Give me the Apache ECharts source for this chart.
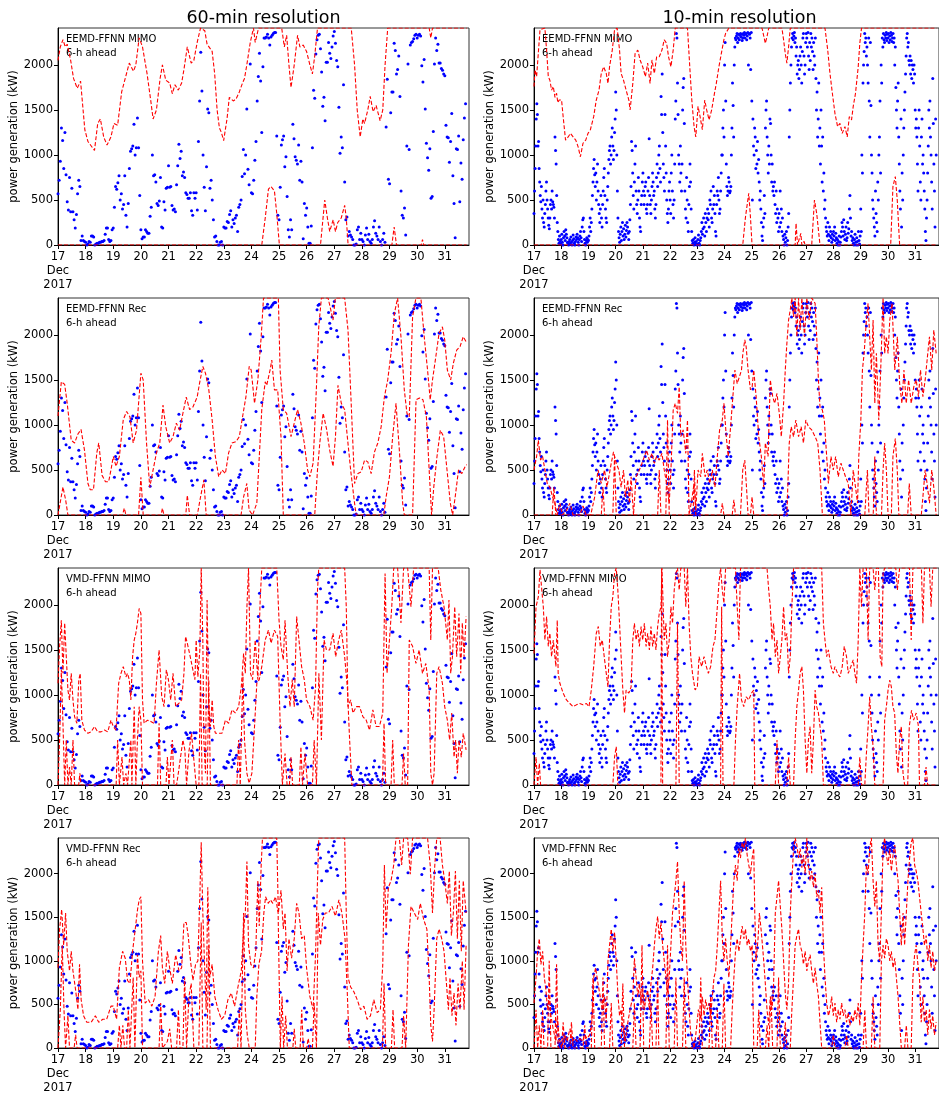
<!DOCTYPE html>
<html>
<head>
<meta charset="utf-8">
<script src="https://cdn.jsdelivr.net/npm/echarts@6/dist/echarts.min.js"></script>
<style>
html,body{margin:0;padding:0;background:#fff;}
#chart{width:939px;height:1095px;}
</style>
</head>
<body>
<div id="chart"></div>
<script>
// Wind farm output, 17–31 Dec 2017: measured power (blue dots) and 6-h ahead forecasts (red dashed).
const CAP = 2410;                 // upper limit of the power axis (kW)
const X_MAX = 357;                // hours shown after 17 Dec 00:00
const dayTicks = ['17\nDec\n2017','18','19','20','21','22','23','24','25','26','27','28','29','30','31'];
const yTicks = [0, 500, 1000, 1500, 2000];
const columnTitles = ['60-min resolution', '10-min resolution'];
const modelNames = ['EEMD-FFNN MIMO', 'EEMD-FFNN Rec', 'VMD-FFNN MIMO', 'VMD-FFNN Rec'];
const horizonText = '6-h ahead';

// Measured power, hourly (one value per hour from 17 Dec 00:00)
const actual60 = [
  570,720,930,1300,1160,850,1250,780,480,390,750,370,630,370,280,190,340,570,720,650,50,100,50,40,
  30,0,10,40,30,100,100,90,0,10,20,20,30,30,40,40,50,120,190,190,60,40,50,170,
  190,420,650,620,690,770,500,570,400,450,770,330,200,460,850,1040,1070,1100,1340,1000,1080,1410,1080,550,
  170,70,90,90,170,150,130,130,320,420,1000,770,780,700,460,440,490,750,200,190,480,390,630,640,
  880,640,650,440,390,400,370,670,880,1120,960,1040,770,810,750,580,560,520,520,580,380,330,580,520,
  580,390,1150,1600,2140,1710,1000,640,380,870,1510,1470,630,720,500,280,90,100,40,0,0,30,40,0,
  200,190,190,260,250,340,380,200,280,240,300,330,150,420,450,500,760,1060,790,1000,1510,840,670,2010,
  580,570,720,940,1150,1600,1870,2130,1820,1250,1980,2300,2300,2310,2340,2300,2220,2310,2330,2350,2360,2360,1210,330,
  280,640,1110,1170,1210,870,980,540,170,90,280,170,1340,1180,980,940,900,1110,720,930,700,70,460,330,
  410,200,20,20,210,1080,1720,1630,2120,2280,2330,2340,2180,1920,1540,1640,1380,2030,2030,2250,2130,2070,2200,2320,
  2370,2240,2050,1980,1530,1020,1200,1080,1780,700,280,310,100,150,110,90,60,0,0,10,170,200,60,130,
  60,40,0,110,190,60,120,40,20,60,200,270,130,100,60,200,40,0,60,130,30,1310,1840,730,
  680,1470,1700,1700,2240,2160,1900,1950,2100,1650,600,330,300,410,110,1100,2010,1060,2220,2250,2260,2290,2330,2340,
  2300,2330,2340,2320,1990,1810,2060,1510,1130,970,830,1070,520,540,1260,2010,2300,2160,2230,2020,2020,1960,1940,1900,
  1880,1330,1200,1190,920,1150,1460,770,460,80,1070,1060,1210,480,910,730,1170,1410,1570
];

// Measured power, 10-min record (two readings per hour kept)
const actual10 = [
  350,600,850,1100,1400,1570,1450,1100,1150,850,700,550,480,650,400,300,500,250,200,350,450,600,700,500,400,300,220,180,300,450,500,400,600,480,450,420,300,1200,1050,900,550,250,150,60,20,100,40,10,
  60,120,30,0,80,150,100,50,170,120,80,30,20,0,40,60,10,90,30,0,50,110,70,20,0,40,90,60,120,80,30,0,60,100,150,80,40,200,280,300,150,60,20,0,50,80,30,60,
  50,100,200,300,150,250,400,550,700,850,950,780,650,800,500,700,900,600,450,350,250,400,550,300,200,450,600,750,850,550,400,300,250,500,650,800,950,1050,1100,900,1000,1200,1300,1100,950,1050,1250,1400,
  1700,1500,1000,600,300,150,80,30,120,200,50,150,250,100,180,60,120,220,90,160,250,200,130,60,150,280,450,650,1150,1050,800,550,400,700,900,1100,600,450,350,500,750,600,300,200,150,450,550,700,
  800,600,450,550,650,700,400,350,450,600,750,1180,550,450,350,500,650,800,700,550,600,400,300,450,750,900,650,800,1000,1100,850,700,1650,1450,1900,1250,900,750,600,1450,1100,800,500,350,250,400,600,700,
  500,350,800,1000,600,450,300,500,900,1400,1600,2350,2300,1800,1450,1000,900,700,1100,800,600,900,1500,1750,1850,1350,600,400,300,750,500,250,150,450,650,900,700,400,150,50,20,60,0,30,80,10,40,0,
  10,60,110,20,0,50,80,150,250,120,180,300,200,100,350,250,150,300,400,280,350,200,500,450,600,300,250,400,650,450,550,350,150,100,450,600,550,750,500,350,400,600,800,1000,1000,1300,1500,1200,
  2000,2250,1600,900,650,550,600,750,700,580,600,650,1000,1300,1800,1550,1200,2000,2200,2300,2280,2320,2350,2250,2300,2340,2280,2330,2350,2310,2340,2270,2300,2350,2330,2360,2300,2340,2350,2280,2320,2360,2000,2350,2340,2300,1950,2360,
  1600,500,1400,1100,1000,1300,1200,850,1050,900,1150,800,950,700,500,600,400,250,100,50,200,300,550,350,1300,1500,1600,1200,1000,800,1100,900,1400,1350,1000,700,900,600,650,550,700,450,350,600,250,400,300,150,
  350,200,600,250,400,150,300,100,60,0,120,30,80,150,0,50,200,350,1200,1500,1800,2000,2200,2300,2350,2280,2320,2360,2250,2300,2100,2200,1900,2000,2050,1850,1950,2100,2200,2000,1800,2150,2300,2350,2100,1900,2000,2250,
  2350,2300,2200,2360,2100,1950,2250,2050,2350,2200,2300,2150,1950,2250,2100,2000,2300,1850,1500,1700,1200,1400,1800,1100,1300,900,1500,1100,700,1200,600,800,400,500,300,200,150,100,250,120,50,200,100,150,80,30,120,60,
  150,100,200,50,130,80,20,60,0,40,100,0,30,90,150,250,200,100,280,150,60,120,200,50,80,250,130,180,400,550,300,100,150,50,80,20,0,60,120,30,0,80,40,0,150,50,10,100,
  400,150,1000,800,1800,2000,2150,2350,2250,2300,2100,2200,2000,1800,2300,1600,1200,2250,1550,1000,800,500,400,300,200,100,600,350,250,150,700,500,1000,1200,1600,800,2000,1800,2300,2200,2350,2280,2250,2330,2300,2360,2270,2340,
  2300,2350,2250,2320,2280,2360,2330,2260,2300,2350,2250,2300,2000,2200,1750,1500,1300,1600,1800,1200,900,600,400,1400,200,800,500,1000,1300,1500,1700,1900,2100,2300,2350,2200,2250,2050,2000,2100,1900,2050,1850,2000,1950,1800,2000,1900,
  1500,1300,1400,1200,900,600,1300,1500,1100,700,500,1200,1400,900,1000,800,600,400,150,50,300,500,800,1100,1500,1300,1600,1200,1000,700,400,1850,1350,900,600,200,1400,1000
];

// Forecast traces as (hour, kW) pairs, values held within [0, CAP]
const eemdMimo60Hi = [0,2050, 2,2200, 4.3,2280, 6.3,2200, 8,2230, 11,2050, 13.5,1850, 16.7,1740, 19.6,1820, 23.3,1280, 26,1150, 31.7,1050, 34.5,1350, 36.8,1400, 39.7,1200, 42.6,1110, 46,1200, 48.6,1350, 51.8,1330, 55.3,1700, 58.4,1850, 61.9,2020, 65.6,1930, 67.6,2000, 70.5,2300, 73.4,2200, 77.4,1900, 80.6,1600, 82.6,1400, 85.5,1500, 88.7,1850, 90.7,2000, 93.6,1830, 97,1800, 99.3,1680, 101.6,1780, 104.5,1720, 107.4,1800, 109.4,1950, 112.3,2200, 115.7,2020, 118,2050, 120.9,2250, 123.8,2410, 127.5,2380, 129.5,2230, 133.9,2150, 136.1,1900, 138.2,1500, 140.2,1300, 141.9,1250, 143.9,1160, 146.8,1400, 148.8,1640, 152.3,1600, 154.6,1620, 157.5,1700, 160.3,1800, 162,1850, 164,2000, 167,2250, 169.8,2410, 171.3,2250, 174.2,2410, 194.3,2410, 196.6,2200, 198.6,2330, 200.6,2000, 202.4,1750, 205.2,2000, 208.1,2330, 210.1,2200, 213,2220, 215.9,2150, 218.8,2000, 221,1900, 223,2100, 225.4,2410, 254.7,2410, 257.6,2000, 259.9,1500, 262.5,1200, 264.8,1400, 266.3,1350, 269.1,1500, 271.2,1650, 273.7,1480, 276.3,1550, 279.8,1380, 282.1,1500, 284.1,2000, 286.4,2410, 322.4,2410, 323.8,2300, 325.3,2410, 355,2410];
const eemdMimo60Lo = [0,0, 177,0, 180,300, 182.8,620, 185,650, 188,600, 190,350, 192.3,0, 228,0, 231.7,500, 234,300, 236,150, 239,280, 241,150, 243,250, 246,300, 249,440, 250.4,300, 252,0, 290,0, 292,200, 294,0, 315.5,0, 316.6,60, 317.7,0, 355,0];

const eemdRec60Hi = [0,1100, 2.9,1480, 5.8,1450, 8,1240, 11.5,830, 14.4,800, 17.3,900, 20,950, 23,720, 26,350, 28,280, 30.8,280, 33.7,690, 35.4,800, 38.3,440, 41.2,370, 44,370, 46,500, 48,650, 50.4,540, 53.3,650, 56.7,1060, 59.6,1150, 62.5,1090, 65.3,800, 68.2,940, 72,1575, 74,1500, 76.9,800, 79.7,310, 82.6,500, 85.5,690, 88.4,800, 91.2,1220, 93.6,980, 97,800, 99.9,870, 102.8,1020, 105.6,940, 108.5,1130, 111.4,1310, 114.3,1170, 117.2,1200, 120.9,1310, 122.9,1460, 125.8,1650, 128.1,1575, 131,1390, 133.9,1055, 136.7,650, 139.6,425, 142.5,500, 145.4,460, 148.2,690, 151.1,800, 154.6,815, 157.5,870, 160.3,1090, 163.2,1310, 166.1,1650, 167.8,1610, 170.7,1240, 173.6,1500, 176.5,1980, 178.5,2410, 191.4,2410, 192.9,1610, 195.7,1170, 198.6,1130, 202.4,870, 205.2,1020, 208.1,1170, 211,1020, 213.9,800, 216.8,500, 218.8,425, 221.6,575, 224.5,1425, 226.5,2090, 228.8,2410, 234.6,2410, 236.9,2280, 238.9,2165, 240.9,2410, 249,2410, 251.9,2055, 254.8,1200, 257.6,350, 260.5,460, 263.4,480, 266.3,610, 269.1,590, 272,460, 274.9,700, 277.8,800, 280.7,980, 283.5,1310, 286.4,1500, 289.3,1800, 292.2,2240, 295,2410, 297.9,1980, 300.8,1390, 303.1,1130, 305.1,1090, 308,2200, 310.9,2410, 315.2,2410, 318.1,1980, 321,1610, 323.3,1280, 325.3,1500, 328.2,1760, 331,2020, 333.9,2090, 335.9,1945, 338.2,1610, 341.1,1500, 343.4,1685, 346.3,1830, 349.2,1870, 352,1980, 354.5,1925];
const eemdRec60Lo = [0,0, 4.3,310, 6.6,170, 8.6,0, 56,0, 57.6,75, 59,0, 70,0, 72,420, 74,0, 89.5,0, 90.7,75, 92,0, 111,0, 112.3,220, 114.3,0, 121,0, 123.8,200, 126.7,390, 128.7,0, 159,0, 161.2,200, 164,350, 166,55, 169,0, 172.7,130, 177,1170, 180,1480, 181.3,1440, 184.2,1610, 185.7,1720, 188,1390, 190.8,1390, 193.7,870, 195.7,0, 223,0, 225.4,500, 227.4,800, 230.3,1130, 233.2,960, 236,720, 238.9,540, 241,870, 243.2,1440, 246.1,1240, 249,1170, 251.3,870, 254.2,500, 257.6,130, 259,0, 283,0, 285,200, 287.9,425, 290.7,870, 293.6,1240, 296.5,720, 299.4,130, 300.8,0, 308,0, 311,1280, 314,1300, 317,1280, 320,1090, 322.4,500, 324.5,0, 326.4,310, 329.2,650, 332.1,940, 335,870, 337.9,500, 340.8,130, 342.8,0, 345,200, 347.9,500, 350.8,460, 353.7,540, 355,560];

const vmdMimo60Hi = [0,1130, 1.4,1540, 2.9,1830, 4.3,1240, 5.8,1800, 7.2,1425, 8.6,1055, 10,945, 11.5,1240, 13,945, 14.4,760, 16.4,685, 18.1,1170, 19.3,1240, 20.7,720, 23,610, 26,575, 28.8,590, 31.7,650, 34.5,590, 37.4,590, 40.3,610, 43.2,590, 46,720, 48,650, 50.4,610, 52.7,1130, 54.7,1240, 56.7,1315, 59,1200, 60.4,1240, 61.9,1170, 63.3,945, 64.8,1425, 66.2,1610, 67.6,1685, 69,1800, 70.5,1960, 72,1905, 73.4,945, 74.8,685, 77.7,720, 80.6,705, 83.5,685, 85.5,1130, 87.8,1500, 90.1,980, 92.1,870, 94.1,1280, 95.9,1170, 97.9,945, 99.9,1240, 102.2,870, 105.1,910, 107.4,945, 109.4,1240, 110.8,1650, 112.3,1575, 114.3,1460, 116.6,1315, 118.9,1170, 120,1610, 121.5,1200, 123.2,1500, 124.4,2410, 125.8,1610, 126.7,500, 128.1,130, 129.5,2055, 130.9,870, 132.4,650, 133.9,945, 135.3,650, 136.7,575, 139.6,575, 142.5,575, 145.4,720, 148.2,685, 151.1,835, 154,800, 156.9,870, 159.2,1090, 161.2,1460, 162.7,1240, 164.1,1980, 165.5,2410, 167.2,1240, 169,1170, 171.3,1610, 173.6,1170, 175.6,2055, 177,2410, 190,2410, 192,1830, 193.7,1540, 195.7,1390, 197.2,1830, 199.5,1240, 201.5,870, 203.5,1170, 205.2,870, 207.3,1870, 209.3,1610, 211.6,1315, 213.9,1170, 215.9,945, 218.8,870, 221.6,720, 223.7,1090, 225.4,2165, 226.5,2410, 249,2410, 250.4,1980, 251.9,870, 254.2,945, 256.2,800, 259.1,870, 261.9,870, 264.8,760, 267.7,720, 270.6,610, 273.5,835, 276.3,650, 279.2,650, 282.1,800, 284.1,2350, 285.8,1240, 287.9,1610, 289.9,1980, 291.6,2410, 295,2410, 297.9,1800, 300.2,2410, 303.7,2410, 306.6,1980, 308.9,2410, 322.4,2410, 323.8,1610, 325.3,2410, 330.2,2410, 332.5,2165, 335.3,1980, 338.2,1610, 339.6,2055, 341.1,1240, 342.6,1425, 344.6,1980, 346.3,1425, 348.3,1905, 349.8,1240, 351.2,1800, 352.7,1425, 354.5,1870];
const vmdMimo60Lo = [0,0, 1.4,500, 2.9,1280, 4.3,685, 5.8,0, 7.2,500, 8.6,0, 10,200, 11.5,0, 13,500, 14.4,0, 18,0, 19,130, 20,0, 50.5,0, 51.8,500, 53.3,0, 55.6,310, 57,0, 59,130, 60.4,0, 63.3,500, 64.2,0, 66.2,870, 67.6,0, 69,500, 70.5,870, 72,720, 73.4,0, 86.4,0, 87.8,685, 89.2,0, 93.8,0, 95,310, 96.4,0, 98,0, 99.3,500, 100.8,0, 103,0, 104.5,130, 108.5,500, 110.2,390, 111.7,0, 113.7,370, 116,575, 118,280, 120,0, 122.4,0, 123.8,1240, 125.2,0, 129.6,0, 131,1170, 132.4,0, 155.4,0, 156.9,500, 158.3,0, 160.6,1240, 162,500, 164.1,130, 166,20, 168.4,130, 170.7,650, 172.7,1130, 174.8,1170, 177,1315, 180,1610, 182.8,1720, 185.1,1575, 188,1720, 190.8,1650, 192.9,720, 194.9,0, 197.2,350, 199,0, 201,0, 202.4,310, 203.8,0, 209.6,0, 211,425, 212.4,0, 214.5,350, 216.8,0, 221,0, 222.5,500, 224.5,0, 226.6,1240, 228.8,500, 231.1,1610, 233.2,1500, 236,1500, 238.9,1685, 241.2,1425, 243.8,1610, 246.1,1720, 249,1425, 251.3,1090, 253.3,500, 255.3,0, 281.8,0, 283.2,685, 284.6,0, 289.3,0, 290.7,500, 292.1,0, 298.8,0, 300.2,350, 301.6,0, 303.7,0, 305.1,1610, 308,1540, 310.9,1350, 313.7,1500, 316.6,1240, 319.5,1350, 322.4,1055, 323.8,130, 325.3,0, 326.7,130, 329,1240, 331,1315, 333.9,1130, 335.9,870, 338.2,720, 340.2,500, 342,800, 344,310, 345.4,500, 346.9,130, 348.3,500, 350.3,310, 352,575, 354.5,390];

const vmdRec60Hi = [0,920, 1.4,1365, 3.2,1590, 4.9,1180, 6.6,1550, 8,1110, 10,885, 11.5,1110, 13,885, 15.3,665, 17.3,440, 18.7,960, 20.1,555, 22.2,370, 25,295, 28.8,295, 32.5,370, 35.4,295, 38.9,330, 42.3,330, 46,480, 48,480, 50.9,330, 53.3,920, 56.1,1110, 58.4,1030, 60.4,775, 62.5,740, 64.8,1110, 67.1,1365, 69.1,1590, 70.5,1700, 72,1735, 73.4,1000, 75.7,515, 78.6,555, 81.5,480, 84.3,590, 87.2,1110, 89.2,1290, 90.7,920, 92.7,740, 95,1110, 97,920, 99.3,740, 102.2,1070, 105.1,885, 107.4,920, 109.4,1440, 111.4,1440, 113.1,1290, 115.1,1000, 117.2,775, 119.5,960, 121.5,1000, 123.2,1735, 124.4,2360, 125.8,1550, 127.2,1000, 128.7,440, 130.1,1845, 131.8,810, 133.9,960, 136.2,590, 139,440, 141.9,330, 144.8,370, 147.6,555, 150.5,630, 153.4,480, 156.3,700, 159.2,885, 161.2,1365, 162.7,1550, 164.1,2140, 165.5,1180, 167.5,960, 169.8,920, 171.8,1110, 173.6,1920, 174.8,1400, 176.5,2100, 177.6,2410, 190,2410, 191.4,1550, 193.7,1810, 195.7,1365, 197.2,1550, 199,885, 200.6,1255, 202.9,1030, 205.2,1255, 207.3,1660, 209.3,1550, 211.6,1255, 213.9,1290, 215.9,920, 218.8,590, 221.6,440, 223.7,1070, 225.4,1920, 226.5,2410, 249,2410, 250.4,1550, 251.9,810, 254.2,700, 257,645, 259.9,555, 262.8,440, 265.7,480, 268.5,330, 271.4,370, 274.3,555, 277.2,405, 280,440, 282.1,960, 283.5,2100, 285,1365, 287,1845, 289.3,1920, 291.6,2100, 293.6,2410, 296.5,2410, 298.5,2100, 300.2,2410, 303.7,2410, 306,1995, 308,2410, 321,2410, 323.3,2100, 325.3,1550, 327.3,2100, 329,2410, 331.9,2410, 333.9,2100, 335.9,1920, 338.2,1660, 339.9,2030, 341.7,1290, 343.4,1550, 345.2,2030, 346.9,1255, 348.6,1920, 350.3,1110, 352,1920, 354.5,1550];
const vmdRec60Lo = [0,0, 2,440, 3.7,1180, 5.2,440, 6.6,0, 8.6,370, 10,0, 14,0, 15.3,150, 16.6,0, 51.8,0, 53.3,260, 54.7,0, 56.3,260, 57.8,0, 59.6,0, 61.1,440, 62.5,0, 65.3,810, 66.8,0, 69,1070, 70.5,810, 72,885, 73.4,0, 87.8,0, 89.2,515, 90.7,0, 95,75, 97,220, 98.7,0, 103,0, 104.6,440, 106,0, 108.5,0, 110,810, 111.7,0, 113.7,590, 115.7,740, 118,0, 122.3,0, 124.4,1440, 125.8,0, 129.4,0, 130.9,1180, 132.4,0, 156,0, 157.5,440, 159,0, 161.2,1550, 162.7,440, 164.4,150, 166.1,0, 171.3,0, 172.7,590, 174.5,960, 176.8,1110, 178.8,1550, 180.3,1735, 182.6,1660, 184.5,1700, 186.6,1660, 188.9,1735, 191.2,1550, 193.1,0, 194.6,590, 196,0, 197.8,370, 199.3,0, 204,0, 205.2,220, 206.5,0, 210.3,0, 211.7,440, 213.1,0, 216,0, 217.3,110, 218.7,0, 221,0, 222.5,515, 224.5,0, 226,1550, 228,1180, 230,1475, 232.2,1550, 235,1550, 238,1625, 241,1515, 244,1700, 246.6,1550, 249.3,1255, 251.3,630, 253,0, 281.8,0, 283.2,740, 284.6,0, 289.6,0, 291,440, 292.4,0, 298.8,0, 300.2,370, 302,0, 304.4,1180, 306.6,1625, 309.5,1550, 312.4,1475, 314.7,1660, 317.6,1475, 320.4,1365, 322.4,810, 323.8,260, 325.3,75, 326.7,440, 329,1255, 331,1365, 333.3,1255, 335.3,1110, 337.4,740, 339.1,440, 340.5,810, 342.2,370, 344,630, 345.7,260, 347.5,740, 349.2,440, 351.2,1000, 352.7,440, 354.5,1180];

const eemdMimo10Hi = [0,1760, 0.9,1945, 2.3,1870, 4,2165, 5.3,2390, 6.7,2410, 9.6,2410, 11.1,2165, 12.6,1870, 14,1830, 15.5,1720, 17,1760, 18.5,1640, 19.9,1685, 21,1580, 22.2,1610, 24.3,1610, 25.7,1425, 27.8,1165, 30.1,1200, 32.1,1240, 34.5,1200, 36.8,1165, 38.9,1090, 40.9,980, 43.2,1130, 45.6,1165, 47.6,1240, 49.7,1280, 52.6,1425, 54.9,1610, 57.3,1720, 59.3,1905, 61.4,1980, 63.7,1905, 65.2,1795, 66.6,1980, 69,2165, 71,2390, 73.3,2410, 75.4,2165, 76.8,1905, 78.9,1830, 81.2,1720, 83.6,1610, 84.7,1500, 87.1,1795, 89.1,2125, 91.5,2165, 93.5,2055, 95.8,1980, 98.2,1870, 100.2,2020, 102.3,1795, 104,2055, 106.1,1905, 108.1,2090, 110.4,2090, 112.8,2165, 114.8,2280, 116.9,2240, 118.6,2090, 120.7,1980, 122.7,2165, 124.5,2410, 135.3,2410, 137.3,1980, 139.1,1610, 141.1,1315, 142.6,1200, 144.6,1540, 146.4,1425, 148.4,1280, 150.5,1610, 152.2,1500, 154.3,1390, 156.6,1500, 158.6,1650, 160.7,1795, 163,1980, 165.1,2125, 167.4,2280, 168.9,2350, 171.8,2410, 201,2410, 203.9,2240, 205.4,2315, 206.9,2410, 218.5,2410, 220,2280, 221.5,2125, 222.9,2020, 224.4,2200, 225.9,2410, 256.5,2410, 258.9,2165, 260.9,1905, 263,1685, 265.3,1460, 267.6,1315, 269.7,1350, 271.7,1240, 274.1,1315, 276.1,1200, 277.9,1425, 279.9,1390, 281.4,1540, 283.4,1685, 285.8,1980, 287.2,2240, 288.7,2410, 355,2410];
const eemdMimo10Lo = [0,0, 184,0, 186.4,310, 189.3,575, 190.8,310, 192.2,0, 230.2,0, 231,240, 232.3,0, 235.2,130, 236.1,0, 238.1,40, 239,0, 244.8,0, 247.2,500, 249.2,350, 252.1,0, 314.4,0, 316.4,650, 318.5,760, 320.2,500, 322.3,0, 355,0];

const eemdRec10Hi = [0,500, 2.3,650, 3.8,830, 5.8,610, 7.6,650, 9.6,500, 11.7,350, 14,310, 16.4,200, 18.4,130, 20.5,0, 22.8,130, 25.1,0, 28.6,50, 31.6,130, 34.5,0, 40.3,0, 43.2,100, 46,0, 50,0, 53.5,200, 56.4,500, 59.3,350, 62.2,500, 64.3,310, 66,425, 68.1,575, 70.1,700, 72.5,575, 74.8,500, 76.8,310, 78.9,500, 80.6,200, 82.7,390, 84.1,130, 85.6,425, 87.7,0, 90,425, 92.9,500, 95.2,575, 97.3,650, 99.3,720, 101.7,610, 104,685, 106.1,575, 108.1,650, 110.4,610, 112.8,685, 114.8,500, 116.9,350, 119.2,130, 120.7,500, 122.7,1165, 124.5,1240, 126.5,1130, 128,1425, 129.4,870, 131.5,945, 133.8,685, 135.3,1055, 136.7,0, 139.1,170, 141.1,350, 142.6,50, 144.6,500, 147,425, 148.4,685, 150.8,425, 152.8,500, 154.9,350, 157.2,500, 159.5,310, 161.6,650, 163.6,945, 166,1055, 167.4,1240, 169.5,870, 171.2,650, 173.3,980, 175.3,1315, 177.1,1610, 179.1,1460, 181.2,1540, 182.9,1610, 184.1,1795, 185.8,1945, 187,1870, 188.7,1610, 190.8,1390, 192.3,1425, 193.7,1610, 195.8,1315, 198.1,870, 200.4,650, 202.5,310, 203.9,800, 206.3,650, 208.3,1500, 210.4,1315, 212.1,1240, 214.2,1350, 216.2,1130, 218,870, 220,1240, 221.5,1610, 222.9,1905, 224.4,2165, 225.9,2280, 227.3,2410, 228.8,2200, 230.2,2410, 231.7,1980, 233.2,2410, 234.6,2055, 236.1,2410, 238.4,1980, 240.5,2410, 242.5,2165, 244.8,2410, 247.8,2350, 249.2,1980, 250.7,1500, 252.1,1200, 254.2,1165, 255.9,1055, 258,650, 259.5,350, 261.8,650, 263.8,500, 265.9,650, 268.2,425, 270.6,575, 272.6,500, 274.6,425, 277,350, 279.3,0, 281.4,500, 283.4,310, 285.2,130, 286.3,650, 288.1,1055, 289.5,1610, 291,1795, 293,2165, 294.5,2350, 295.9,1980, 297.4,1610, 298.9,2165, 300.4,1240, 301.8,1795, 303.9,1055, 305.6,1610, 307.7,2410, 309.1,1795, 310.6,1980, 312.1,1795, 313.6,2165, 315.6,2350, 318,1610, 320.3,1980, 322.3,1460, 324.3,1240, 326.1,1610, 328.1,1240, 330.2,1500, 332.5,1240, 334.8,1425, 336.9,1500, 338.9,1315, 340.7,1610, 342.8,1315, 344.8,1500, 347.1,1795, 348.6,1980, 350.6,1610, 352.4,2055, 354.5,1795];
const eemdRec10Lo = [0,0, 16,0, 17.5,310, 19.3,0, 59.3,0, 60.8,310, 62.2,0, 69.5,0, 71,650, 72.5,0, 109,0, 110.4,500, 111.9,0, 116.2,0, 117.7,1055, 119.2,0, 140.2,0, 141.4,500, 142.6,0, 164.5,0, 166,130, 167.4,0, 174.7,0, 176.2,170, 177.6,0, 182,0, 184,500, 185.8,610, 187.3,310, 188.7,0, 190.8,0, 192.2,200, 193.7,0, 222.9,0, 225,800, 226.7,980, 228.8,870, 230.8,1055, 233.2,870, 235.5,980, 237.5,800, 239.6,1055, 241.9,980, 244.8,945, 247.8,870, 250.1,800, 252.1,500, 254.2,0, 291.6,0, 293.9,500, 295.3,0, 299,0, 300.4,650, 301.8,0, 306.3,0, 307.7,500, 309.1,800, 310.6,500, 312.1,0, 315,0, 316.4,650, 318.5,850, 320.2,500, 321.6,0, 329.4,0, 330.8,350, 332.5,0, 341.4,0, 342.8,200, 344.8,500, 346.5,350, 348.6,130, 350.6,500, 352.4,310, 354.5,0];

const vmdMimo10Hi = [0,1460, 1.8,1980, 3.8,2090, 5.3,2390, 6.7,2410, 8.2,1980, 9.6,1610, 11.1,1870, 12.6,1540, 14,1685, 15.5,1425, 17,1610, 19.3,1315, 20.5,1830, 21.3,1240, 22.8,1130, 25.7,1020, 28.6,945, 31.6,905, 34.5,870, 37.4,890, 40.3,905, 43.2,890, 46.2,905, 48.5,870, 50.5,1055, 52.6,1315, 54.9,1685, 56.7,1760, 58.4,1540, 60.2,1610, 61.9,1425, 63.7,1240, 65.2,1090, 66.6,1610, 68.1,1980, 69.5,2090, 71,2350, 72.5,2410, 73.9,2165, 75.4,1795, 76.8,1425, 78.3,1055, 79.8,800, 81.2,1055, 83.6,1020, 85.6,1090, 87.1,1610, 88.5,1795, 90,1610, 91.5,1720, 92.9,1540, 94.4,1760, 95.8,1610, 97.3,1795, 98.8,1540, 100.2,1685, 101.7,1500, 103.1,1760, 104.6,1540, 106.1,1685, 107.5,1500, 109,1760, 110.4,1905, 111.9,1980, 112.8,2410, 114.8,1610, 116.3,1795, 117.7,1425, 119.2,1610, 120.7,1980, 122.1,1795, 123.6,2165, 125.1,2350, 126.5,2410, 128,2165, 129.4,2410, 132.4,2410, 133.8,1980, 135.3,2410, 136.7,1795, 138.2,1425, 139.7,1240, 142,1055, 144,1090, 145.5,1425, 147.8,1315, 149.9,1425, 151.9,1315, 153.7,1240, 155.7,1315, 157.8,1540, 159.5,1610, 161.6,1980, 163,2240, 164.5,2410, 166,2165, 167.4,2020, 168.9,2410, 177.6,2410, 179.1,1980, 180.6,1610, 182,2410, 205.4,2410, 206.9,2165, 208.3,1980, 209.8,1610, 211.2,1795, 212.7,1425, 214.2,1610, 215.6,1240, 217.1,1425, 218.5,1610, 220,1980, 221.5,1610, 222.9,1685, 224.4,1240, 225.9,1425, 227.3,1980, 228.8,2410, 253.6,2410, 255.1,1795, 256.5,1610, 258,1425, 259.5,1500, 261.8,1315, 263.8,1240, 265.3,1315, 267.6,1240, 269.7,1200, 271.7,1315, 273.5,1540, 275.5,1425, 277,1240, 279.3,1315, 281.4,1390, 282.8,1240, 284.3,1130, 285.8,1610, 287.2,2410, 288.7,1980, 290.1,2410, 293,2410, 294.5,1610, 295.9,2410, 298.9,2410, 300.4,2165, 301.8,2410, 303.6,2410, 305.1,1425, 306.6,1315, 307.7,2350, 309.1,2410, 318.9,2410, 320.3,2165, 322.3,2410, 331,2410, 332.5,1610, 334,2410, 341.5,2410, 342.8,1795, 344.2,2410, 348.6,2410, 350,1980, 351.5,2410, 355,2410];
const vmdMimo10Lo = [0,0, 1.8,310, 3.2,0, 4.7,240, 5.8,0, 69.5,0, 71,310, 72.5,425, 73.9,0, 111.9,0, 112.5,2410, 113.4,0, 125.1,0, 126.5,1795, 128,0, 164.5,0, 165.4,1980, 166.6,0, 176.2,0, 177.6,500, 179.1,870, 181.2,1240, 182.9,945, 184.9,870, 187,980, 189.3,945, 191.7,1020, 193.7,1055, 194.6,0, 212.7,0, 214.2,500, 215.6,0, 222.9,0, 224.4,310, 225.9,0, 228.8,0, 230.2,500, 231.7,870, 233.2,1055, 234.6,1240, 236.1,1315, 237.5,1055, 239,500, 240.5,130, 241.9,500, 243.4,650, 244.8,130, 246.3,500, 247.8,1055, 249.2,870, 250.7,800, 252.1,650, 253.6,500, 255.1,0, 285.8,0, 287.2,310, 288.7,0, 291.6,0, 293,350, 294.5,650, 295.9,980, 297.4,650, 298.9,425, 300.4,0, 307.7,0, 309.1,720, 310.6,870, 312.1,1055, 313.6,1165, 315,1090, 316.4,870, 317.9,800, 319.4,350, 320.8,130, 322.3,500, 323.8,650, 325.3,130, 326.7,0, 329.4,0, 330.8,650, 332.8,830, 334.6,720, 336.9,800, 338.9,650, 339.8,0, 344.2,0, 345.6,200, 347,0, 355,0];

const vmdRec10Hi = [0,515, 1.8,810, 3.2,1110, 4.7,1255, 6.1,960, 7.6,1110, 9.1,810, 10.5,665, 12,440, 13.4,590, 14.9,370, 16.9,220, 19.3,75, 20.5,370, 22.2,110, 24.3,0, 27.2,150, 29.2,75, 31.6,220, 33.9,75, 35.9,110, 38,75, 40.3,110, 42.7,75, 44.7,150, 46.7,110, 49.1,150, 51.4,370, 52.6,810, 54.3,920, 56.4,740, 58.4,590, 60.2,440, 62.2,590, 63.7,295, 65.2,1000, 66.6,1180, 68.1,1365, 69.5,1110, 71,1330, 72.5,1000, 73.9,630, 75.4,370, 76.8,440, 78.3,260, 80.6,75, 82.7,295, 84.7,440, 87.1,590, 88.5,1030, 90,810, 91.5,590, 92.9,740, 94.4,515, 95.8,665, 97.3,440, 98.8,590, 100.2,665, 101.7,440, 103.1,740, 104.6,920, 106.1,1180, 107.5,1365, 109,1510, 110.4,1255, 111.9,1440, 113.4,1180, 114.8,1000, 116.3,810, 117.7,630, 119.2,810, 120.7,1180, 122.1,1550, 123.6,1735, 125.1,1920, 126.5,2140, 128,1550, 129.4,1180, 130.9,1000, 132.4,1920, 133.8,1180, 135.3,810, 136.7,440, 138.2,150, 139.7,75, 141.1,0, 142.6,150, 144.9,440, 147,330, 148.4,590, 149.9,370, 151.3,555, 152.8,440, 154.3,515, 155.7,370, 157.2,590, 158.7,810, 160.1,885, 161.6,1180, 163,1550, 164.5,1920, 166,1255, 167.4,1000, 168.9,1255, 170.3,1000, 171.8,810, 173.3,1180, 174.7,1550, 176.2,1920, 177.6,2100, 179.1,1920, 180.6,2290, 182,2180, 183.5,2360, 185,2290, 186.4,2410, 187.9,2215, 189.3,2100, 190.8,2000, 192.3,2180, 193.7,2290, 194.6,1550, 195.8,1000, 197.5,1255, 198.7,1550, 200.4,1330, 202.5,1000, 203.9,740, 205.4,440, 206.9,260, 208.3,590, 209.8,440, 211.2,740, 212.7,1550, 214.2,1735, 215.6,1920, 217.1,1625, 218.5,1365, 220,1000, 221.5,630, 222.9,440, 224.4,740, 225.9,1550, 227.3,1920, 228.8,2290, 230.2,2410, 231.7,2330, 233.2,2180, 234.6,2290, 236.1,2070, 237.5,2215, 239,2000, 240.5,2410, 241.9,2100, 243.4,1920, 244.8,2030, 246.3,1845, 247.8,2000, 249.2,1735, 250.7,1810, 252.1,1550, 253.6,1845, 255.1,1180, 256.5,810, 258,515, 259.5,370, 260.9,440, 262.4,590, 263.8,370, 265.3,515, 266.8,295, 268.2,440, 269.7,330, 271.2,515, 272.6,370, 274.1,440, 275.5,295, 277,405, 278.4,260, 279.9,370, 281.4,295, 282.8,440, 284.3,330, 285.8,515, 287.2,260, 288.7,810, 290.1,1180, 291.6,1550, 293,2100, 294.5,2000, 295.9,2290, 297.4,2410, 298.9,1920, 300.4,1625, 301.8,1920, 303.3,1180, 304.8,1000, 306.2,1550, 307.7,2290, 309.1,2410, 310.6,2215, 312.1,2100, 313.6,2290, 315,2030, 316.5,2215, 318,2330, 319.4,2100, 320.9,1920, 322.3,1550, 323.8,1180, 325.3,1550, 326.7,1180, 328.2,1550, 329.6,1920, 331.1,2180, 332.5,2360, 334,2410, 335.5,2100, 336.9,2030, 338.4,1920, 339.8,1735, 341.3,1550, 342.8,1365, 344.2,1180, 345.7,1290, 347.1,1000, 348.6,1180, 350,920, 351.5,1110, 353,885, 354.5,1000];
const vmdRec10Lo = [0,0, 1.8,440, 3.2,0, 4.7,260, 6.1,0, 7.6,440, 8.8,0, 12,0, 13.4,1000, 14.9,0, 18.5,0, 19.9,960, 21.3,0, 24.3,0, 25.7,295, 27.2,0, 31.6,0, 33,295, 34.5,0, 43.2,0, 44.7,260, 46.2,0, 50.5,0, 52,810, 53.5,0, 59.3,0, 60.8,810, 62.2,0, 66.6,0, 68.1,515, 69.5,0, 76.8,0, 78.3,740, 79.8,0, 87.1,0, 88.5,515, 90,0, 93.5,0, 95.2,1180, 96.7,0, 101.7,0, 103.1,515, 104.6,0, 107.5,0, 109,810, 110,0, 116.3,0, 117.7,1180, 119.2,0, 123.6,0, 125.1,810, 126.5,0, 130.9,0, 132.4,810, 133.8,0, 145.5,0, 147,810, 148.4,0, 154.3,0, 155.7,590, 157.2,0, 160.1,0, 161.6,440, 163,0, 166,0, 167.4,740, 168.9,0, 173.3,0, 174.7,440, 176.2,810, 177.6,1110, 179.1,1255, 180.6,1110, 182,1255, 183.5,1400, 185,1255, 186.4,1365, 187.9,1180, 189.3,1255, 190.8,1110, 192.3,1180, 193.7,0, 196.7,0, 198.1,440, 199.5,0, 204,0, 205.4,260, 206.9,0, 207.5,0, 208.9,590, 210.4,0, 214.2,0, 215.6,810, 217.1,0, 220,0, 221.5,295, 222.9,0, 225.9,0, 227.3,440, 228.8,810, 230.2,1180, 231.7,1290, 233.2,1365, 234.6,1180, 236.1,1110, 237.5,960, 239,1110, 240.5,885, 241.9,1000, 243.4,1070, 244.8,885, 246.3,740, 247.8,920, 249.2,740, 250.7,590, 252.1,295, 253.6,0, 262.4,0, 263.8,150, 265.3,0, 274.1,0, 275.5,150, 277,0, 290.1,0, 291.6,440, 293,0, 297.4,0, 298.9,590, 300.4,0, 304.8,0, 306.2,1000, 307.7,1180, 309.1,1030, 310.6,1255, 312.1,1180, 313.6,1000, 315,1110, 316.5,920, 318,1030, 319.4,810, 320.9,590, 322.3,295, 323.8,0, 326.7,0, 328.2,260, 329.6,0, 332.5,0, 334,810, 335.5,1070, 336.9,1180, 338.4,960, 339.8,810, 341.3,295, 342.8,590, 344.2,295, 345.7,440, 347.1,150, 348.6,440, 350,220, 351.5,370, 353,150, 354.5,295];

// ---- layout and drawing ----
const FONT = 'DejaVu Sans';
const panels = [
  { col: 0, row: 0, traces: [eemdMimo60Hi, eemdMimo60Lo] },
  { col: 0, row: 1, traces: [eemdRec60Hi, eemdRec60Lo] },
  { col: 0, row: 2, traces: [vmdMimo60Hi, vmdMimo60Lo] },
  { col: 0, row: 3, traces: [vmdRec60Hi, vmdRec60Lo] },
  { col: 1, row: 0, traces: [eemdMimo10Hi, eemdMimo10Lo] },
  { col: 1, row: 1, traces: [eemdRec10Hi, eemdRec10Lo] },
  { col: 1, row: 2, traces: [vmdMimo10Hi, vmdMimo10Lo] },
  { col: 1, row: 3, traces: [vmdRec10Hi, vmdRec10Lo] }
];
const measured = [
  { values: actual60, stepHours: 1 },
  { values: actual10, stepHours: 0.5 }
];

function toPairs(flat) {
  const out = [];
  for (let i = 0; i < flat.length; i += 2) out.push([flat[i], flat[i + 1]]);
  return out;
}

const colLeft = [58, 534];
const colWidth = [411, 407];
const rowTop = [28, 298, 568, 838];
const plotH = 217;

const grid = [], xAxis = [], yAxis = [], series = [], graphic = [];

panels.forEach((p, i) => {
  grid.push({
    left: colLeft[p.col], top: rowTop[p.row], width: colWidth[p.col], height: plotH,
    show: true, borderColor: '#333', borderWidth: 1, backgroundColor: 'transparent'
  });
  xAxis.push({
    type: 'value', gridIndex: i, min: 0, max: X_MAX, interval: 24,
    axisLine: { show: true, onZero: false, lineStyle: { color: '#000', width: 1 } },
    axisTick: { show: true, length: 4, lineStyle: { color: '#000' } },
    splitLine: { show: false },
    axisLabel: {
      fontFamily: FONT, fontSize: 11.5, color: '#000', margin: 5, lineHeight: 14,
      showMaxLabel: false,
      formatter: v => (v % 24 === 0 && dayTicks[v / 24] !== undefined) ? dayTicks[v / 24] : ''
    }
  });
  yAxis.push({
    type: 'value', gridIndex: i, min: 0, max: CAP, interval: 500,
    name: 'power generation (kW)', nameLocation: 'middle', nameGap: 32,
    nameTextStyle: { fontFamily: FONT, fontSize: 11.5, color: '#000' },
    axisLine: { show: true, lineStyle: { color: '#000', width: 1 } },
    axisTick: { show: true, length: 4, lineStyle: { color: '#000' } },
    splitLine: { show: false },
    axisLabel: {
      fontFamily: FONT, fontSize: 11.5, color: '#000', margin: 5, showMaxLabel: false,
      formatter: v => yTicks.includes(v) ? String(v) : ''
    }
  });

  const m = measured[p.col];
  series.push({
    type: 'scatter', xAxisIndex: i, yAxisIndex: i,
    data: m.values.map((v, k) => [k * m.stepHours, v]),
    symbol: 'circle', symbolSize: 3,
    itemStyle: { color: '#0000ff', opacity: 1 },
    silent: true, animation: false, z: 2
  });
  p.traces.forEach(flat => {
    series.push({
      type: 'line', xAxisIndex: i, yAxisIndex: i, data: toPairs(flat),
      showSymbol: false, symbol: 'none', clip: true,
      lineStyle: { color: '#ff0000', width: 1.1, type: [4, 2], opacity: 1 },
      silent: true, animation: false, z: 3
    });
  });

  graphic.push({
    type: 'text', left: colLeft[p.col] + 8, top: rowTop[p.row] + 4, silent: true,
    style: { text: modelNames[p.row] + '\n' + horizonText, font: '10px "' + FONT + '"', fill: '#000', lineHeight: 14 }
  });
});

columnTitles.forEach((t, c) => {
  graphic.push({
    type: 'text', x: colLeft[c] + 411 / 2, y: 18, silent: true,
    style: { text: t, font: '17.5px "' + FONT + '"', fill: '#000', textAlign: 'center', textVerticalAlign: 'middle' }
  });
});

const chart = echarts.init(document.getElementById('chart'), null, { renderer: 'canvas' });
chart.setOption({
  animation: false,
  backgroundColor: '#fff',
  grid, xAxis, yAxis, series, graphic
});
</script>
</body>
</html>
